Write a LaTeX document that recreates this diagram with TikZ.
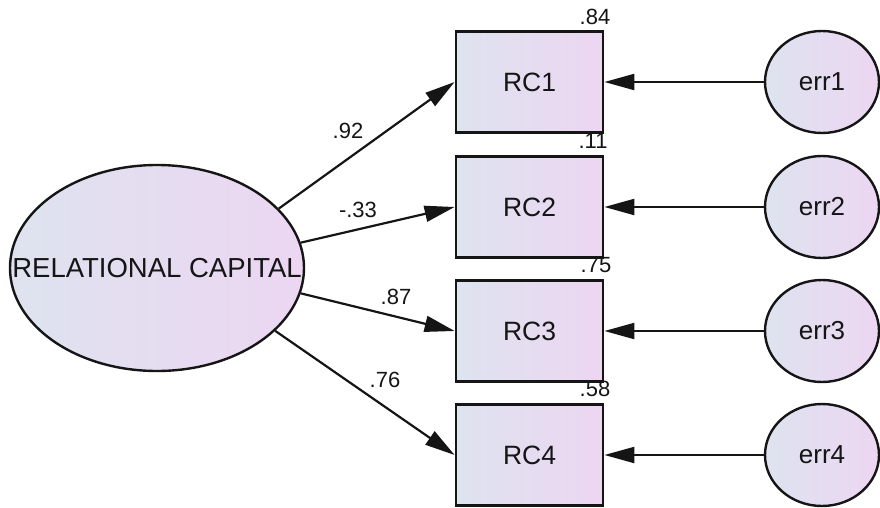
\documentclass[tikz,border=0pt]{standalone}
\usepackage{fontspec}
\setmainfont{Liberation Sans}
\usetikzlibrary{shapes.geometric,arrows.meta}
\definecolor{shadeL}{HTML}{DEE3EF}
\definecolor{shadeR}{HTML}{ECD6F2}
\definecolor{ink}{HTML}{151515}
\tikzset{
  latent/.style={ellipse, draw=ink, line width=2.4pt, left color=shadeL, right color=shadeR,
    inner sep=0pt, text=ink, font=\fontsize{27}{32}\selectfont},
  observed/.style={rectangle, draw=ink, line width=2.8pt, left color=shadeL, right color=shadeR,
    minimum width=147pt, minimum height=101pt, inner sep=0pt, text=ink,
    font=\fontsize{26.5}{31}\selectfont},
  errnode/.style={ellipse, draw=ink, line width=2.4pt, left color=shadeL, right color=shadeR,
    minimum width=114pt, minimum height=102pt, inner sep=0pt, text=ink,
    font=\fontsize{26}{31}\selectfont},
  path/.style={draw=ink, line width=2.2pt, -{Triangle[length=30pt,width=16pt]}},
  coef/.style={text=ink, inner sep=0pt, font=\fontsize{22}{26}\selectfont},
}
\begin{document}
\begin{tikzpicture}[x=1pt,y=-1pt]
  \useasboundingbox (0,0) rectangle (880,508);

  % latent factor
  \node[latent, minimum width=294pt, minimum height=206pt,
        label={[text=ink, font=\fontsize{27.5}{32}\selectfont]center:RELATIONAL CAPITAL}]
        (rcap) at (157,268) {};

  % indicators
  \node[observed] (rc1) at (529.5,82)  {RC1};
  \node[observed] (rc2) at (529.5,207) {RC2};
  \node[observed] (rc3) at (529.5,331) {RC3};
  \node[observed] (rc4) at (529.5,455) {RC4};

  % error terms
  \node[errnode] (e1) at (822,82)  {err1};
  \node[errnode] (e2) at (822,207) {err2};
  \node[errnode] (e3) at (822,331) {err3};
  \node[errnode] (e4) at (822,455) {err4};

  % loadings
  \draw[path] (rcap.26)  -- (rc1.west);
  \draw[path] (rcap.10)  -- (rc2.west);
  \draw[path] (rcap.-10) -- (rc3.west);
  \draw[path] (rcap.-28) -- (rc4.west);

  % error paths
  \draw[path] (e1) -- (rc1);
  \draw[path] (e2) -- (rc2);
  \draw[path] (e3) -- (rc3);
  \draw[path] (e4) -- (rc4);

  % standardized loadings
  \node[coef] (l1) at (348,131) {.92};
  \node[coef] (l2) at (358,210) {-.33};
  \node[coef] (l3) at (396,297) {.87};
  \node[coef] (l4) at (385,380) {.76};

  % squared multiple correlations
  \node[coef] (r1) at (595,17)  {.84};
  \node[coef] (r2) at (593,141) {.11};
  \node[coef] (r3) at (596,265) {.75};
  \node[coef] (r4) at (595,389) {.58};
\end{tikzpicture}
\end{document}
